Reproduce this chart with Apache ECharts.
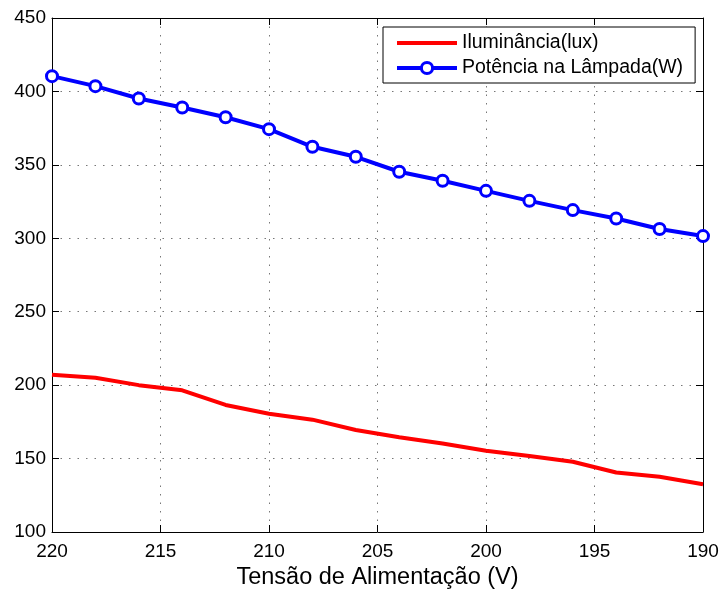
<!DOCTYPE html>
<html>
<head>
<meta charset="utf-8">
<script src="https://cdn.jsdelivr.net/npm/echarts@6/dist/echarts.min.js"></script>
<style>html,body{margin:0;padding:0;background:#fff;}#c{width:723px;height:590px;}</style>
</head>
<body>
<div id="c"></div>
<script>
const voltages = [220, 218, 216, 214, 212, 210, 208, 206, 204, 202, 200, 198, 196, 194, 192, 190];
const illuminance = [207, 205, 200, 196.5, 186.5, 180.5, 176.5, 169.5, 164.5, 160.3, 155.3, 151.7, 147.8, 140.5, 137.6, 132.5];
const lampPower = [410.4, 403.6, 395.2, 389.1, 382.4, 374.3, 362.3, 355.5, 345.3, 339.2, 332.3, 325.5, 319.2, 313.5, 306.3, 301.5];
const seriesNames = ['Iluminância(lux)', 'Potência na Lâmpada(W)'];
const xTitle = 'Tensão de Alimentação (V)';

const FONT = 'Liberation Sans';
const pairs = (ys) => voltages.map((v, i) => [v, ys[i]]);

const chart = echarts.init(document.getElementById('c'), null, {renderer: 'canvas'});
const axisCommon = {
  axisLine: {show: true, onZero: false, lineStyle: {color: '#000', width: 1}},
  axisTick: {show: true, inside: true, length: 7, lineStyle: {color: '#000', width: 1}},
};
chart.setOption({
  backgroundColor: '#fff',
  animation: false,
  grid: {left: 52, right: 20, top: 18, bottom: 58, containLabel: false, outerBoundsMode: 'none'},
  legend: {
    orient: 'vertical',
    left: 383, top: 27,
    padding: [6, 12, 5, 12],
    itemWidth: 60, itemHeight: 14, itemGap: 5,
    borderColor: '#000', borderWidth: 1, backgroundColor: '#fff',
    textStyle: {fontFamily: FONT, fontSize: 19.5, color: '#000', lineHeight: 20},
    data: [
      {name: seriesNames[0], icon: 'path://M0,0L60,0L60,4L0,4Z', itemStyle: {color: '#ff0000', borderWidth: 0}},
      {name: seriesNames[1], lineStyle: {width: 4, color: '#0000ff'}, itemStyle: {color: '#fff', borderColor: '#0000ff', borderWidth: 3}}
    ]
  },
  xAxis: [
    Object.assign({
      type: 'value', position: 'bottom', inverse: true, min: 190, max: 220, interval: 5,
      name: xTitle, nameLocation: 'middle', nameGap: 32,
      nameTextStyle: {fontFamily: FONT, fontSize: 23.5, color: '#000'},
      axisLabel: {fontFamily: FONT, fontSize: 19, color: '#000', margin: 10},
      splitLine: {show: true, lineStyle: {color: '#777', width: 1, type: [1.5, 7]}}
    }, axisCommon),
    Object.assign({
      type: 'value', position: 'top', inverse: true, min: 190, max: 220, interval: 5,
      axisLabel: {show: false}, splitLine: {show: false}
    }, axisCommon)
  ],
  yAxis: [
    Object.assign({
      type: 'value', position: 'left', min: 100, max: 450, interval: 50,
      axisLabel: {fontFamily: FONT, fontSize: 19, color: '#000', margin: 6},
      splitLine: {show: true, lineStyle: {color: '#777', width: 1, type: [1.5, 7]}}
    }, axisCommon),
    Object.assign({
      type: 'value', position: 'right', min: 100, max: 450, interval: 50,
      axisLabel: {show: false}, splitLine: {show: false}
    }, axisCommon)
  ],
  series: [
    {
      name: seriesNames[0], type: 'line', xAxisIndex: 0, yAxisIndex: 0,
      data: pairs(illuminance), symbol: 'none',
      lineStyle: {color: '#ff0000', width: 4}, itemStyle: {color: '#ff0000'}
    },
    {
      name: seriesNames[1], type: 'line', xAxisIndex: 0, yAxisIndex: 0,
      data: pairs(lampPower), symbol: 'circle', symbolSize: 11, showSymbol: true,
      lineStyle: {color: '#0000ff', width: 4},
      itemStyle: {color: '#fff', borderColor: '#0000ff', borderWidth: 3}
    }
  ]
});
</script>
</body>
</html>
